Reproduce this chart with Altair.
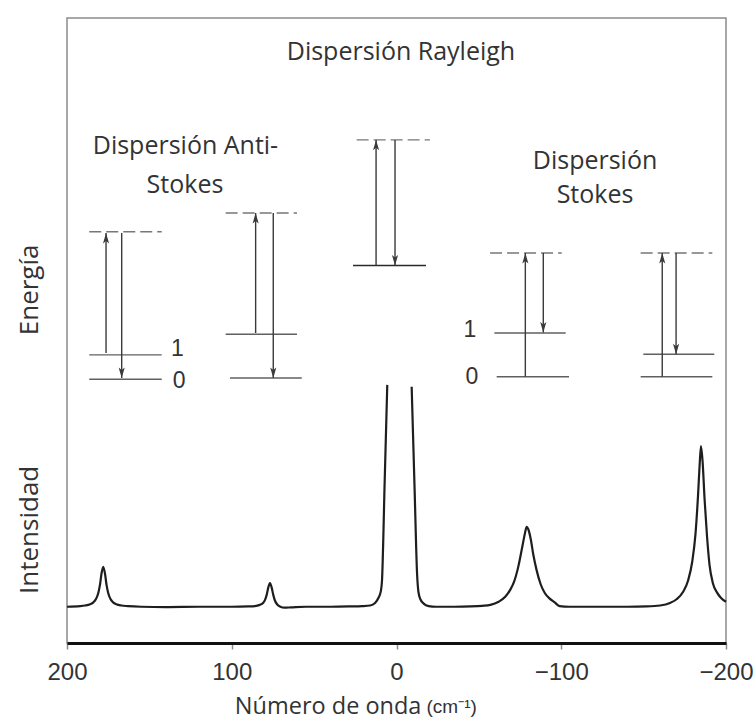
import altair as alt
import pandas as pd

# ---------------- spectrum (x: cm-1, y: intensity, arbitrary units) ----------------
spec_a_x = [200, 192, 189, 186, 184, 182.5, 181, 180, 179, 178, 177, 176, 175, 173.5, 172, 170, 167, 163,
            155, 140, 120, 100, 90, 86, 83, 81, 79.8, 78.8, 77.8, 76.8, 75.8, 74.8, 73.8, 72.5, 70.5, 68,
            64, 55, 40, 28, 21, 16, 13, 11, 9.5, 8.8, 7.2, 5.6]
spec_a_y = [5.8, 5.9, 6.0, 6.2, 6.5, 7.0, 8.0, 9.3, 11.2, 12.2, 11.2, 9.3, 8.0, 7.0, 6.5, 6.2, 6.0, 5.9,
            5.8, 5.75, 5.8, 5.8, 5.85, 5.9, 6.1, 6.4, 6.9, 7.7, 8.9, 9.6, 8.9, 7.7, 6.8, 6.2, 5.8, 5.65,
            5.7, 5.8, 5.8, 5.85, 5.9, 6.0, 6.4, 7.2, 8.3, 10.0, 25.6, 41.3]
spec_b_x = [-9.2, -11.0, -12.5, -13.3, -14.5, -16.5, -19.5, -24, -35, -45, -52, -57, -62, -66, -69, -71.5,
            -74, -76.5, -78, -79, -80, -81.5, -83, -85, -87.5, -90, -93, -96, -99, -105, -120, -140, -152,
            -160, -166, -170, -174, -177, -179.5, -181.5, -183, -184, -184.8, -185.8, -187, -188.5, -190,
            -192, -194.5, -197, -200]
spec_b_y = [41.0, 24.5, 11.0, 8.2, 7.0, 6.3, 5.9, 5.8, 5.8, 5.85, 5.95, 6.1, 6.6, 7.4, 8.5, 9.9,
            12.3, 15.6, 17.6, 18.6, 18.2, 16.6, 14.2, 11.7, 9.4, 8.0, 7.1, 6.5, 5.9, 5.8, 5.8, 5.8, 5.85,
            6.0, 6.4, 7.0, 8.2, 10.0, 13.0, 17.5, 23.5, 28.5, 31.5, 29.0, 23.0, 17.0, 12.5,
            9.6, 8.1, 7.2, 6.6]

# ---------------- energy diagrams ----------------
# vibrational levels (solid): start x, end x, energy
level_x1 = [186.5, 186.5, 103.7, 101.1, 26.4, -59.4, -60.8, -149.8, -148.2]
level_x2 = [142.5, 142.5, 60.4, 57.5, -17.9, -102.7, -104.7, -192.9, -191.7]
level_y = [46.1, 42.2, 49.4, 42.4, 60.4, 49.6, 42.6, 46.2, 42.6]
level_group = ["side", "side", "side", "side", "rayleigh", "side", "side", "side", "side"]

# virtual levels (dashed)
virt_x1 = [186.5, 103.7, 24.2, -56.8, -148.2]
virt_x2 = [142.5, 60.4, -20.3, -100.3, -191.7]
virt_y = [65.8, 68.8, 80.5, 62.4, 62.4]

# transitions: x, from energy, to energy (arrow tip)
arrow_x = [176.3, 166.8, 85.5, 74.8, 12.4, 0.9, -78.2, -89.1, -161.3, -169.7]
arrow_y1 = [46.4, 65.6, 49.6, 68.8, 60.4, 80.5, 42.6, 62.4, 42.6, 62.4]
arrow_y2 = [65.6, 42.4, 68.8, 42.4, 80.5, 60.4, 62.4, 49.7, 62.4, 46.2]

# ---------------- texts ----------------
title_text = ["Dispersión Rayleigh", "Dispersión Anti-", "Stokes", "Dispersión", "Stokes"]
title_x = [-2.7, 128.1, 128.4, -120.5, -120.5]
title_y = [94.6, 79.6, 73.3, 77.1, 71.7]

axis_title_text = ["Número de onda"]
axis_title_x = [41.5]
axis_title_y = [-10.3]

side_text = ["Energía", "Intensidad"]
side_x = [222.5, 222.5]
side_y = [56.5, 18.1]

num_text = ["1", "0", "1", "0"]
num_x = [133.0, 132.0, -44.6, -45.8]
num_y = [47.0, 42.0, 50.1, 42.6]

unit_text = ["(cm⁻¹)"]
unit_x = [-33.5]
unit_y = [-10.3]

tick_values = [200, 100, 0, -100, -200]

# ---------------- frames ----------------
spec = pd.concat([
    pd.DataFrame({"x": spec_a_x, "y": spec_a_y, "seg": "a"}),
    pd.DataFrame({"x": spec_b_x, "y": spec_b_y, "seg": "b"}),
])
levels = pd.DataFrame({"x1": level_x1, "x2": level_x2, "y": level_y, "g": level_group})
virt = pd.DataFrame({"x1": virt_x1, "x2": virt_x2, "y": virt_y})
arrows = pd.DataFrame({"x": arrow_x, "y1": arrow_y1, "y2": arrow_y2})
arrows["dir"] = ["up" if b > a else "down" for a, b in zip(arrows.y1, arrows.y2)]
titles = pd.DataFrame({"x": title_x, "y": title_y, "t": title_text})
axis_titles = pd.DataFrame({"x": axis_title_x, "y": axis_title_y, "t": axis_title_text})
sides = pd.DataFrame({"x": side_x, "y": side_y, "t": side_text})
nums = pd.DataFrame({"x": num_x, "y": num_y, "t": num_text})
units = pd.DataFrame({"x": unit_x, "y": unit_y, "t": unit_text})

xs = alt.Scale(domain=[-200, 200], reverse=True, nice=False, zero=False)
ys = alt.Scale(domain=[0, 100], nice=False, zero=False)

X = lambda f: alt.X(f, type="quantitative", scale=xs,
                    axis=alt.Axis(values=tick_values, title=None, grid=False, labelFlush=False))
Y = lambda f: alt.Y(f, type="quantitative", scale=ys, axis=None)

line = alt.Chart(spec).mark_line(color="#1e1e1e", strokeWidth=2.2, interpolate="monotone").encode(
    x=X("x"), y=Y("y"), detail="seg:N", order="x:Q")

lev = alt.Chart(levels).mark_rule(strokeWidth=1.4).encode(
    x=X("x1"), x2="x2", y=Y("y"),
    color=alt.Color("g:N", scale=alt.Scale(domain=["side", "rayleigh"], range=["#606060", "#2a2a2a"]),
                    legend=None))

vir = alt.Chart(virt).mark_rule(strokeWidth=1.4, strokeDash=[12, 5], color="#777777").encode(
    x=X("x1"), x2="x2", y=Y("y"))

arr = alt.Chart(arrows).mark_rule(strokeWidth=1.4, color="#3a3a3a").encode(
    x=X("x"), y=Y("y1"), y2="y2")

up_path = "M0,0 L0.5,1.7 L0,1.3 L-0.5,1.7 Z"
down_path = "M0,0 L0.5,-1.7 L0,-1.3 L-0.5,-1.7 Z"
heads = alt.Chart(arrows).mark_point(filled=True, size=150, opacity=1, color="#3a3a3a").encode(
    x=X("x"), y=Y("y2"),
    shape=alt.Shape("dir:N", scale=alt.Scale(domain=["up", "down"], range=[up_path, down_path]),
                    legend=None))

ttl = alt.Chart(titles).mark_text(font="Open Sans", fontSize=25, color="#333333",
                                  align="center", baseline="middle").encode(
    x=X("x"), y=Y("y"), text="t:N")

axt = alt.Chart(axis_titles).mark_text(font="Open Sans", fontSize=23.5, color="#333333",
                                       align="center", baseline="middle").encode(
    x=X("x"), y=Y("y"), text="t:N")

sid = alt.Chart(sides).mark_text(font="Open Sans", fontSize=26, color="#333333", angle=270,
                                 align="center", baseline="middle").encode(
    x=X("x"), y=Y("y"), text="t:N")

num = alt.Chart(nums).mark_text(font="Liberation Sans", fontSize=23, color="#333333",
                                align="center", baseline="middle").encode(
    x=X("x"), y=Y("y"), text="t:N")

unit = alt.Chart(units).mark_text(font="Liberation Sans", fontSize=19, color="#333333",
                                  align="center", baseline="middle").encode(
    x=X("x"), y=Y("y"), text="t:N")

chart = alt.layer(line, lev, vir, arr, heads, ttl, axt, sid, num, unit).properties(
    width=659, height=625,
    autosize=alt.AutoSizeParams(type="none"),
    padding={"left": 67, "top": 18, "right": 30, "bottom": 85},
).configure_view(stroke="#8c8c8c", strokeWidth=1.5).configure_axis(
    domainColor="#111111", domainWidth=3, tickColor="#8c8c8c", tickSize=6, tickWidth=1.5,
    labelFont="Liberation Sans", labelFontSize=24, labelColor="#333333", labelPadding=11,
)

chart.save("out.html", embed_options={"renderer": "svg", "actions": False})
